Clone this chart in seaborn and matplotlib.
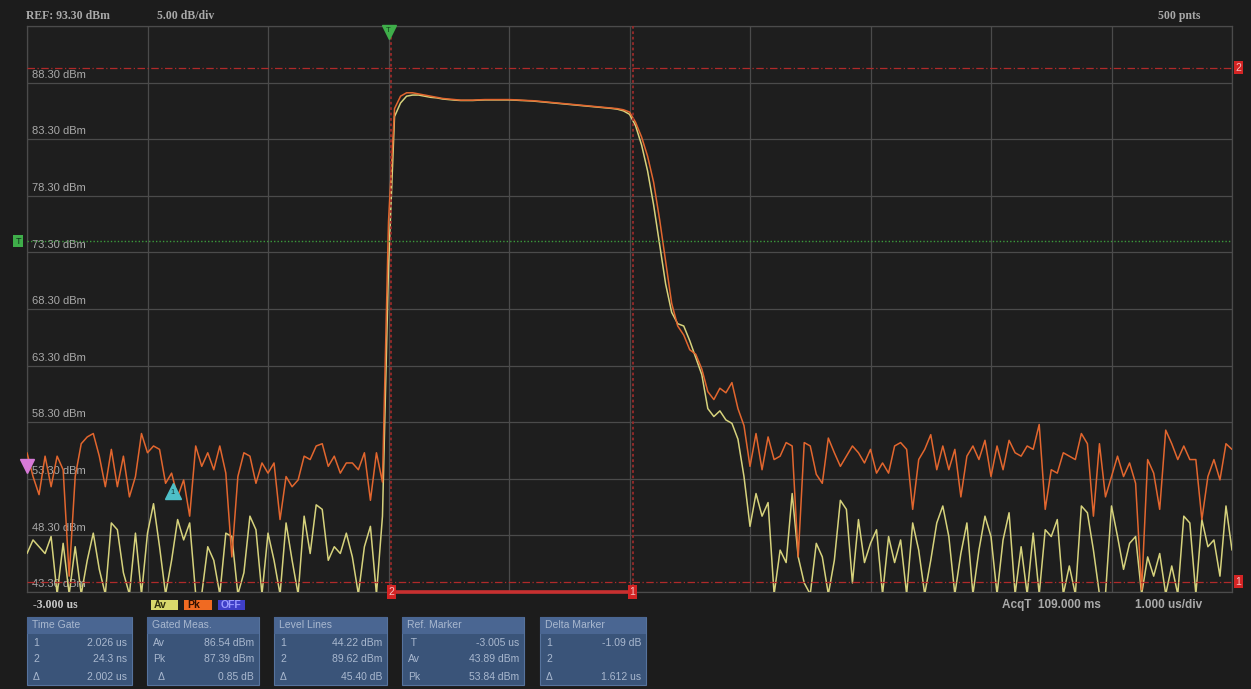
import matplotlib

matplotlib.use("Agg")
import matplotlib.pyplot as plt  # noqa: E402
import matplotlib.patches as mpatches  # noqa: E402
import matplotlib.transforms as mtransforms  # noqa: E402
import numpy as np  # noqa: E402
import pandas as pd  # noqa: E402
import seaborn as sns  # noqa: E402

# ---- data (0.05 us sample spacing, starting at -3 us)
T_START = -3.0
T_STEP = 0.05

PK_NOISE_LEFT = [
    55.6, 53.5, 51.9, 55.3, 52.6, 55.3, 54.1, 44.7, 53.5, 56.4,
    57.0, 57.3, 55.3, 52.6, 55.9, 52.6, 55.3, 51.7, 53.5, 57.3,
    55.6, 56.2, 55.9, 52.9, 53.8, 51.7, 53.2, 50.0, 56.2, 54.4,
    55.6, 54.1, 56.2, 53.8, 46.4, 53.5, 55.6, 55.3, 52.9, 54.7,
    53.8, 54.7, 49.7, 53.5, 52.6, 53.2, 55.3, 55.0, 56.2, 56.4,
    54.4, 55.3, 53.8, 54.7, 54.7, 54.1, 55.6, 51.4, 55.6, 53.0,
]
PK_PULSE = [
    76.0, 86.0, 87.1, 87.4, 87.4, 87.3, 87.2, 87.1, 87.0, 86.9, 86.85, 86.8,
    86.75, 86.75, 86.75, 86.78, 86.8, 86.8, 86.8, 86.8, 86.8, 86.78,
    86.75, 86.72, 86.7, 86.65, 86.6, 86.55, 86.5, 86.45, 86.4, 86.35,
    86.3, 86.25, 86.2, 86.15, 86.1, 86.05, 86.0, 85.9, 85.7,
    84.8, 83.5, 81.8, 79.5, 76.2, 72.5, 68.8, 66.8, 66.0, 64.7,
    64.3, 63.0, 61.0, 60.3, 61.3, 60.9, 61.8, 59.5, 58.0, 54.4,
]
PK_NOISE_RIGHT = [
    57.3, 54.1, 57.0, 55.0, 55.3, 56.5, 56.2, 46.4, 56.5, 56.2,
    53.7, 52.9, 56.9, 55.6, 54.4, 55.3, 56.2, 55.6, 54.7, 55.9,
    53.8, 54.7, 53.8, 56.2, 56.5, 55.9, 50.6, 55.0, 55.9, 57.2,
    54.1, 56.2, 54.1, 55.9, 51.7, 55.3, 56.2, 55.0, 56.7,
    53.5, 56.2, 54.1, 56.7, 55.6, 55.3, 56.2, 55.9, 58.1, 50.6,
    54.1, 53.8, 55.6, 55.3, 55.0, 57.3, 56.4, 50.0, 56.4, 51.7,
    53.5, 55.3, 53.5, 54.7, 52.9, 43.5, 55.0, 53.8, 50.6, 57.6,
    56.4, 55.0, 56.2, 55.0, 55.0, 49.7, 53.5, 55.0, 53.2, 56.4, 55.9,
]

AV_NOISE_LEFT = [
    46.7, 47.9, 47.3, 46.7, 48.2, 43.1, 47.6, 43.1, 47.3, 43.1,
    46.1, 48.5, 45.3, 43.1, 49.4, 48.8, 45.0, 43.1, 48.5, 43.1,
    48.5, 51.1, 47.3, 43.1, 46.1, 49.7, 47.9, 49.4, 43.1, 43.1,
    47.3, 46.1, 43.1, 48.5, 48.2, 43.1, 45.0, 50.0, 48.8, 43.1,
    48.5, 46.1, 43.1, 49.4, 46.1, 43.1, 50.0, 46.7, 51.0, 50.6,
    46.1, 47.3, 46.7, 48.5, 46.4, 43.1, 47.3, 49.1, 43.1, 50.0,
]
AV_PULSE = [
    72.0, 85.3, 86.5, 87.1, 87.2, 87.2, 87.1, 87.0, 86.95, 86.85, 86.8, 86.75,
    86.72, 86.72, 86.72, 86.75, 86.77, 86.77, 86.77, 86.77, 86.77, 86.75,
    86.72, 86.7, 86.67, 86.62, 86.57, 86.52, 86.47, 86.42, 86.37, 86.32,
    86.27, 86.22, 86.17, 86.12, 86.07, 86.02, 85.95, 85.8, 85.5,
    84.5, 82.8, 80.5, 77.5, 74.0, 70.5, 68.0, 67.0, 66.8, 65.5,
    64.0, 62.5, 59.5, 58.8, 59.3, 58.5, 58.2, 56.8, 53.5, 49.1,
]
AV_NOISE_RIGHT = [
    52.0, 50.0, 51.2, 43.1, 47.0, 45.9, 52.0, 46.4, 44.1, 43.1,
    47.6, 46.4, 43.1, 46.1, 51.4, 50.6, 44.1, 49.7, 45.9, 47.6,
    48.8, 43.1, 48.2, 45.9, 47.9, 43.1, 49.4, 47.0, 43.1, 46.1,
    49.4, 50.9, 48.2, 43.1, 46.7, 49.4, 43.1, 47.0, 50.0,
    48.2, 43.1, 47.9, 50.3, 43.1, 47.3, 43.1, 48.5, 43.1, 48.8,
    48.2, 49.7, 43.1, 45.6, 43.1, 50.9, 50.3, 47.0, 43.1, 43.1,
    50.9, 48.2, 45.3, 47.6, 48.2, 43.1, 46.4, 44.7, 46.7, 43.1,
    45.6, 43.1, 50.0, 49.4, 43.1, 49.7, 47.3, 47.9, 44.7, 50.9, 47.0,
]

LEVEL_LINES = {"1": 44.22, "2": 89.62}
GATES = {"2": 0.0243, "1": 2.026}
TRIGGER_LEVEL = 74.3
TRIGGER_TIME = 0.0
MAG_MARKER_LEVEL = 54.4
REF_MARKER = (-1.79, 52.2)

REF_LEVEL = 93.30
DB_PER_DIV = 5.0
X_MIN, X_MAX = -3.0, 7.0

PANELS = [
    ("Time Gate", [("1", "2.026 us"), ("2", "24.3 ns"), ("\u0394", "2.002 us")]),
    ("Gated Meas.", [("Av", "86.54 dBm"), ("Pk", "87.39 dBm"), ("  \u0394", "0.85 dB")]),
    ("Level Lines", [("1", "44.22 dBm"), ("2", "89.62 dBm"), ("\u0394", "45.40 dB")]),
    ("Ref. Marker", [(" T", "-3.005 us"), ("Av", "43.89 dBm"), ("Pk", "53.84 dBm")]),
    ("Delta Marker", [("1", "-1.09 dB"), ("2", ""), ("\u0394", "1.612 us")]),
]
PANEL_X = [(27, 132), (147, 259), (274, 387), (402, 524), (540, 646)]

# ---- build long table
pk = PK_NOISE_LEFT + PK_PULSE + PK_NOISE_RIGHT
av = AV_NOISE_LEFT + AV_PULSE + AV_NOISE_RIGHT
t = T_START + T_STEP * np.arange(len(pk))
df = pd.concat(
    [
        pd.DataFrame({"t": t, "dBm": av, "trace": "Av"}),
        pd.DataFrame({"t": t, "dBm": pk, "trace": "Pk"}),
    ],
    ignore_index=True,
)

W, H = 1251, 689
BG = "#1c1c1c"
GRID = "#4b4b4b"
TXT = "#a9a9a9"
RED = "#c42a2a"

sns.set_style("dark")
plt.rcParams["font.family"] = ["Liberation Sans", "DejaVu Sans"]

fig = plt.figure(figsize=(W / 100, H / 100), dpi=100, facecolor=BG)
ax = fig.add_axes([27 / W, 1 - 592 / H, 1205 / W, 566 / H])
ax.set_facecolor("#1e1e1e")

sns.lineplot(
    data=df, x="t", y="dBm", hue="trace", hue_order=["Av", "Pk"],
    palette={"Av": "#d6d27c", "Pk": "#e2662e"},
    estimator=None, legend=False, linewidth=1.1, ax=ax, zorder=3,
)

bottom = REF_LEVEL - 10 * DB_PER_DIV
ax.set_xlim(X_MIN, X_MAX)
ax.set_ylim(bottom, REF_LEVEL)
ax.set_xticks(np.arange(X_MIN, X_MAX + 0.5, 1.0))
ax.set_yticks(np.arange(bottom, REF_LEVEL + 0.1, DB_PER_DIV))
ax.set_xticklabels([])
ax.set_yticklabels([])
ax.tick_params(length=0)
ax.grid(True, color=GRID, linewidth=0.9)
ax.set_xlabel("")
ax.set_ylabel("")
for s in ax.spines.values():
    s.set_color(GRID)
    s.set_linewidth(0.9)

# level labels inside the grid
trans = mtransforms.blended_transform_factory(ax.transAxes, ax.transData)
for lv in np.arange(bottom, REF_LEVEL - 0.1, DB_PER_DIV):
    ax.text(5 / 1205, lv + 0.25, f"{lv:.2f} dBm", transform=trans, fontsize=8,
            color=TXT, va="bottom", ha="left", zorder=2)

# level lines
for name, lv in LEVEL_LINES.items():
    ax.axhline(lv, color="#b02a2a", linewidth=0.9, linestyle=(0, (6, 2, 1, 2)), zorder=4)
    ax.text(1.0 + 6 / 1205, lv, name, transform=trans, fontsize=7.5, color="#f2c0c0",
            ha="center", va="center", clip_on=False, zorder=6,
            bbox=dict(boxstyle="square,pad=0.15", fc="#d42424", ec="none"))

# gate lines
trans_x = mtransforms.blended_transform_factory(ax.transData, ax.transAxes)
for name, g in GATES.items():
    ax.axvline(g, color="#9a2a2a", linewidth=1.3, linestyle=(0, (1.5, 1.5)), zorder=4)
    ax.text(g, 0.0, name, transform=trans_x, fontsize=7.5, color="#f2c0c0",
            ha="center", va="center", clip_on=False, zorder=7,
            bbox=dict(boxstyle="square,pad=0.15", fc="#d42424", ec="none"))
ax.plot([GATES["2"], GATES["1"]], [bottom, bottom], color="#c83030",
        linewidth=2.6, clip_on=False, zorder=6, solid_capstyle="butt")

# trigger
ax.axhline(TRIGGER_LEVEL, color="#3c9a3c", linewidth=1.0, linestyle=(0, (1, 1.5)), zorder=4)
ax.text(-9 / 1205, TRIGGER_LEVEL, "T", transform=trans, fontsize=6.5, color="#10301a",
        ha="center", va="center", clip_on=False, zorder=6,
        bbox=dict(boxstyle="square,pad=0.2", fc="#3fae4a", ec="none"))
ax.plot([TRIGGER_TIME], [REF_LEVEL - 0.55], marker="v", markersize=10, color="#3fae4a",
        clip_on=False, zorder=7, linestyle="none")
ax.text(TRIGGER_TIME, REF_LEVEL - 0.4, "T", fontsize=5.5, color="#104018",
        ha="center", va="center", zorder=8, clip_on=False)

# magenta and cyan markers
ax.plot([X_MIN], [MAG_MARKER_LEVEL], marker="v", markersize=10, color="#d77ad8",
        clip_on=False, zorder=7, linestyle="none")
ax.plot([REF_MARKER[0]], [REF_MARKER[1]], marker="^", markersize=11, color="#4ec0c8",
        clip_on=False, zorder=7, linestyle="none")
ax.text(REF_MARKER[0], REF_MARKER[1] - 0.15, "1", fontsize=5.5, color="#103838",
        ha="center", va="center", zorder=8)


def fx(x):
    return x / W


def fy(y):
    return 1 - y / H


serif = ["Liberation Serif", "DejaVu Serif"]
fig.text(fx(26), fy(16), "REF: 93.30 dBm", fontsize=8.5, fontweight="bold",
         family=serif, color=TXT, va="center")
fig.text(fx(157), fy(16), "5.00 dB/div", fontsize=8.5, fontweight="bold",
         family=serif, color=TXT, va="center")
fig.text(fx(1158), fy(16), "500 pnts", fontsize=8.5, fontweight="bold",
         family=serif, color=TXT, va="center")
fig.text(fx(33), fy(605), "-3.000 us", fontsize=8.5, fontweight="bold",
         family=serif, color="#c8c8c8", va="center")
fig.text(fx(1002), fy(605), "AcqT  109.000 ms", fontsize=8.5, fontweight="bold",
         color=TXT, va="center")
fig.text(fx(1135), fy(605), "1.000 us/div", fontsize=8.5, fontweight="bold",
         color=TXT, va="center")

# trace legend boxes
for (x0, x1), lab, fc, tc in [
    ((151, 178), "Av", "#d8d86c", "#303010"),
    ((184, 212), "Pk", "#f06a22", "#301000"),
    ((218, 245), "OFF", "#3f3fc8", "#9a9aff"),
]:
    fig.patches.append(mpatches.Rectangle((fx(x0), fy(610)), (x1 - x0) / W, 10 / H,
                                          transform=fig.transFigure, fc=fc, ec="none"))
    fig.text(fx(x0 + 3), fy(605), lab, fontsize=7.5, fontweight="bold",
             color=tc, va="center")

# measurement panels
PTXT = "#a9b8cf"
for (title, rows), (x0, x1) in zip(PANELS, PANEL_X):
    fig.patches.append(mpatches.Rectangle((fx(x0), fy(685)), (x1 - x0) / W, 68 / H,
                                          transform=fig.transFigure, fc="#3a5479",
                                          ec="#56739d", lw=0.8))
    fig.patches.append(mpatches.Rectangle((fx(x0), fy(634)), (x1 - x0) / W, 17 / H,
                                          transform=fig.transFigure, fc="#4a6692",
                                          ec="none"))
    fig.text(fx(x0 + 5), fy(625.5), title, fontsize=7.5, color=PTXT, va="center")
    for k, (lab, val) in enumerate(rows):
        yy = 642.5 + 17 * k
        fig.text(fx(x0 + 6), fy(yy), lab, fontsize=7.5, color=PTXT, va="center")
        fig.text(fx(x1 - 5), fy(yy), val, fontsize=7.5, color=PTXT, va="center",
                 ha="right")

fig.savefig("out.png", dpi=100, facecolor=BG)
plt.close(fig)
